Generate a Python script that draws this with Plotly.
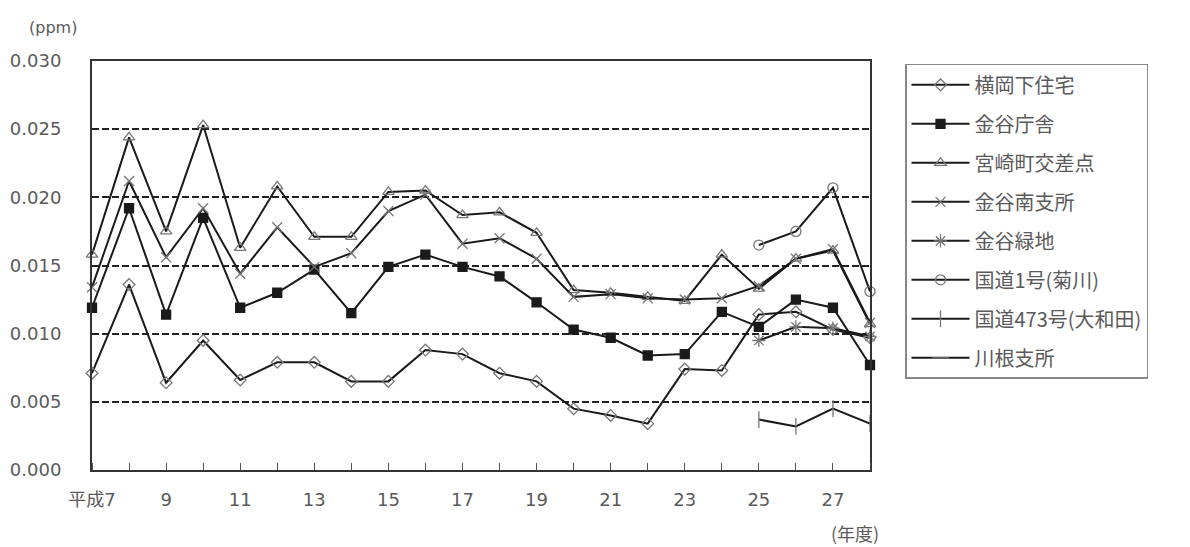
import plotly.graph_objects as go

years = list(range(7, 29))
tick_vals = [7, 9, 11, 13, 15, 17, 19, 21, 23, 25, 27]
tick_text = ["平成7", "9", "11", "13", "15", "17", "19", "21", "23", "25", "27"]

yokooka = [0.0071, 0.0136, 0.0064, 0.0095, 0.0066, 0.0079, 0.0079, 0.0065, 0.0065, 0.0088, 0.0085,
           0.0071, 0.0065, 0.0045, 0.0040, 0.0034, 0.0074, 0.0073, 0.0114, 0.0116, 0.0103, 0.0097]
kanaya_chosha = [0.0119, 0.0192, 0.0114, 0.0185, 0.0119, 0.0130, 0.0147, 0.0115, 0.0149, 0.0158, 0.0149,
                 0.0142, 0.0123, 0.0103, 0.0097, 0.0084, 0.0085, 0.0116, 0.0105, 0.0125, 0.0119, 0.0077]
miyazaki = [0.0158, 0.0244, 0.0175, 0.0253, 0.0163, 0.0208, 0.0171, 0.0171, 0.0204, 0.0205, 0.0187,
            0.0189, 0.0174, 0.0132, 0.0130, 0.0127, 0.0124, 0.0158, 0.0133, 0.0155, 0.0161, 0.0107]
kanaya_minami = [0.0134, 0.0212, 0.0156, 0.0192, 0.0144, 0.0178, 0.0149, 0.0159, 0.0190, 0.0202, 0.0166,
                 0.0170, 0.0155, 0.0127, 0.0129, 0.0126, 0.0125, 0.0126, 0.0135, 0.0155, 0.0162, 0.0108]
kanaya_ryokuchi = [None] * 18 + [0.0095, 0.0105, 0.0104, 0.0098]
kokudo1 = [None] * 18 + [0.0165, 0.0175, 0.0207, 0.0131]
kokudo473 = [None] * 18 + [0.0037, 0.0032, 0.0045, 0.0034]
kawane = [None] * 22

names = ["横岡下住宅", "金谷庁舎", "宮崎町交差点", "金谷南支所", "金谷緑地",
         "国道1号(菊川)", "国道473号(大和田)", "川根支所"]
series = [yokooka, kanaya_chosha, miyazaki, kanaya_minami, kanaya_ryokuchi, kokudo1, kokudo473, kawane]
symbols = ["diamond-open", "square", "triangle-up-open", "x-thin-open", "asterisk-open",
           "circle-open", "line-ns-open", "line-ew-open"]
msizes = [9, 9, 10, 10, 11, 10, 12, 12]

fig = go.Figure()
for i, (nm, vals, sym) in enumerate(zip(names, series, symbols)):
    filled = sym == "square"
    fig.add_trace(go.Scatter(
        x=years, y=vals, name=nm, mode="lines+markers",
        line=dict(color="#1a1a1a", width=2),
        marker=dict(symbol=sym, size=msizes[i],
                    color="#1a1a1a" if filled else "#777777",
                    line=dict(color="#1a1a1a" if filled else "#777777", width=1.3)),
        cliponaxis=False, connectgaps=False, legendgroup=f"g{i}",
    ))

num_font = dict(family="DejaVu Sans, sans-serif", size=18, color="#5a5a5a")
jp = "Noto Sans CJK JP, sans-serif"

fig.update_layout(
    width=1182, height=539,
    margin=dict(l=84, r=320, t=53, b=77, autoexpand=False),
    paper_bgcolor="white", plot_bgcolor="white",
    font=dict(family=jp, size=16, color="#5a5a5a"),
    showlegend=True,
    legend=dict(x=1.045, y=0.993, xanchor="left", yanchor="top",
                bordercolor="#888888", borderwidth=1.5, bgcolor="white",
                font=dict(family=jp, size=20, color="#5a5a5a"),
                tracegroupgap=10, itemwidth=58),
    xaxis=dict(range=[7, 28], tickvals=tick_vals, ticktext=tick_text,
               showgrid=False, zeroline=False, automargin=False,
               showline=True, linecolor="#333333", linewidth=2, mirror=True,
               ticks="", ticklabelstandoff=12,
               tickfont=dict(family="DejaVu Sans, Noto Sans CJK JP, sans-serif", size=18, color="#5a5a5a")),
    yaxis=dict(range=[0, 0.030], tickvals=[0, 0.005, 0.010, 0.015, 0.020, 0.025, 0.030],
               tickformat=".3f", showgrid=True, gridcolor="#222222", gridwidth=2.2,
               griddash="7px,3px", zeroline=False, automargin=False,
               showline=True, linecolor="#333333", linewidth=2, mirror=True,
               ticks="", ticklabelstandoff=25, tickfont=num_font),
    annotations=[
        dict(text="(ppm)", xref="paper", yref="paper", x=-0.050, y=1.083,
             xanchor="center", yanchor="middle", showarrow=False,
             font=dict(family="DejaVu Sans, sans-serif", size=16, color="#5a5a5a")),
        dict(text="(年度)", xref="paper", yref="paper", x=0.981, y=-0.155,
             xanchor="center", yanchor="middle", showarrow=False,
             font=dict(family=jp, size=18, color="#5a5a5a")),
    ],
)

# inside tick marks at each year on x axis
fig.update_xaxes(minor=dict(tickvals=years, ticks="inside", ticklen=7, tickcolor="#555555", tickwidth=1))

fig.write_html("out.html")
